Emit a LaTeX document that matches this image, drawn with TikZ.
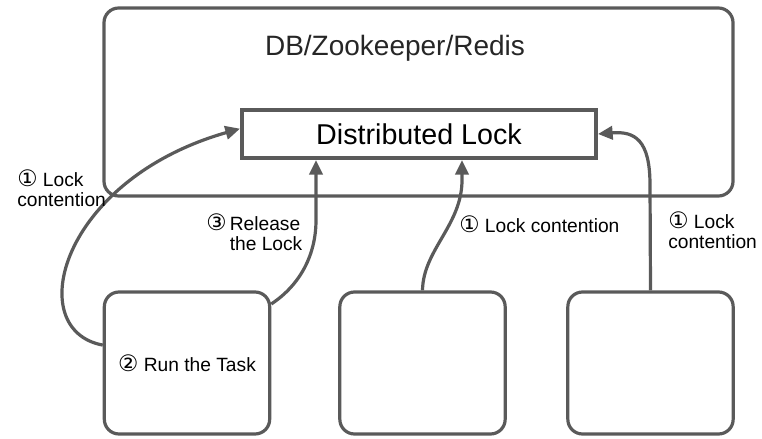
\documentclass[tikz,border=0pt]{standalone}
\usepackage{fontspec}
\setmainfont{Liberation Sans}
\newfontfamily\circfont{DejaVu Sans}
\usetikzlibrary{arrows.meta}
\definecolor{linegray}{HTML}{5A5A5A}
\newcommand{\cnum}[1]{{\circfont\fontsize{17}{17}\selectfont #1}}
\newcommand{\twolines}[2]{\begin{tabular}[t]{@{}l@{}}#1\\#2\end{tabular}}

\begin{document}
\begin{tikzpicture}[x=0.75pt,y=-0.75pt,
  >={Triangle[length=11pt,width=10pt]},
  panel/.style={draw=linegray, line width=2.4pt, rounded corners=11pt, rectangle},
  lockbox/.style={draw=linegray, line width=3pt, rectangle},
  lbl/.style={font=\fontsize{14.4}{15.5}\selectfont, inner sep=0pt},
  flow/.style={draw=linegray, line width=2.4pt, ->}]
\useasboundingbox (0,0) rectangle (762,438);
% storage and lock
\node[panel, minimum width=471.75pt, minimum height=141pt] (db) at (418.5,102) {};
\node[font=\fontsize{21}{25}\selectfont, text=black!85] (title) at (395,48) {DB/Zookeeper/Redis};
\node[lockbox, minimum width=265.5pt, minimum height=36pt, font=\fontsize{21.5}{25}\selectfont] (lock) at (419,134) {Distributed Lock};
% clients
\node[panel, minimum width=124pt, minimum height=106.5pt, font=\fontsize{14.4}{16}\selectfont] (box1) at (187,363) {\cnum{②} Run the Task};
\node[panel, minimum width=124pt, minimum height=106.5pt] (box2) at (422.5,363) {};
\node[panel, minimum width=124pt, minimum height=106.5pt] (box3) at (650.5,363) {};
% connectors
\draw[flow] (box1.168) .. controls (22,330) and (60,180) .. ([yshift=4pt]lock.west);
\draw[flow] (box1.35) .. controls (300,285) and (316,255) .. (316,220) -- (lock.south -| 316,0);
\draw[flow] (box2.north) .. controls (423,250) and (462,225) .. (462,180) -- (lock.south -| 462,0);
\draw[flow] (box3.north) -- (650,185) .. controls (650,140) and (635,131) .. (lock.east);
% labels
\node[lbl, anchor=base west] (lab1) at (17,186) {\twolines{\cnum{①} Lock}{contention}};
\node[lbl, anchor=base west] (lab3) at (206,230) {\cnum{③}\,\twolines{Release}{the Lock}};
\node[lbl, anchor=base west] (lab2) at (459,232) {\cnum{①} Lock contention};
\node[lbl, anchor=base west] (lab4) at (668,228) {\twolines{\cnum{①} Lock}{contention}};
\end{tikzpicture}
\end{document}
